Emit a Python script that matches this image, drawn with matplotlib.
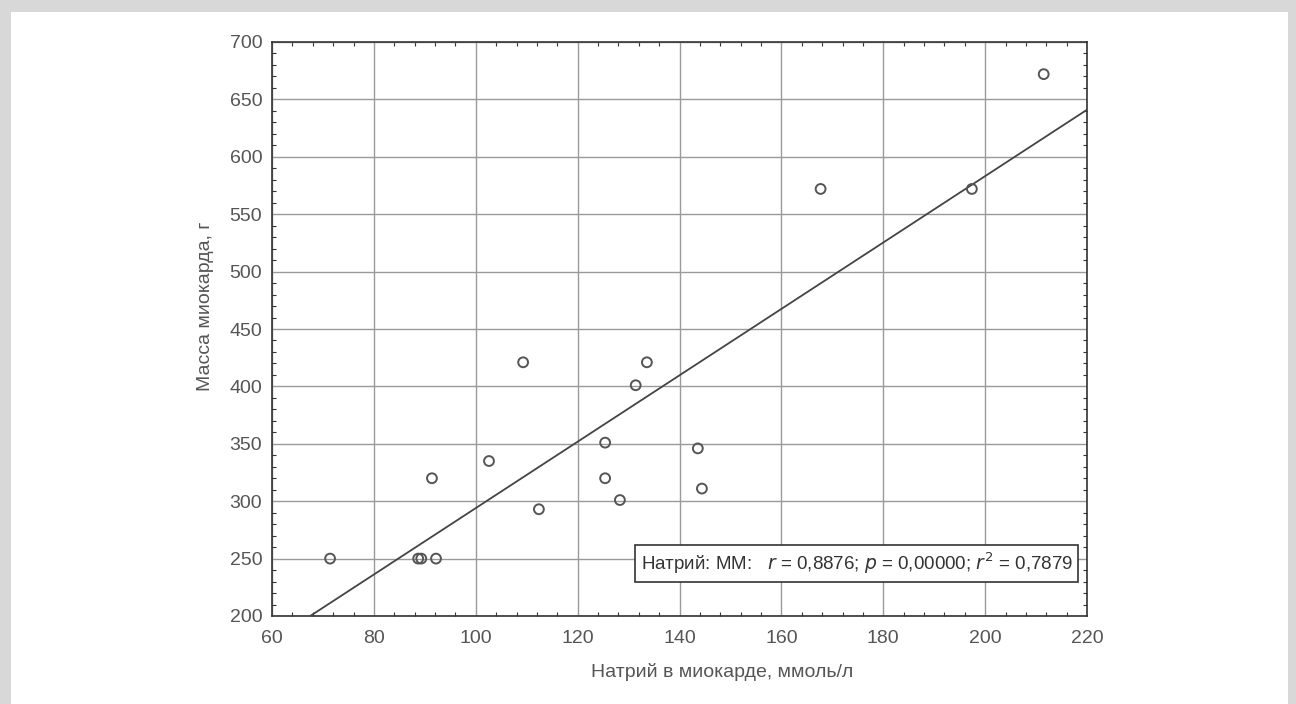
import matplotlib.pyplot as plt
from matplotlib.patches import Rectangle
from matplotlib.ticker import MultipleLocator

plt.rcParams['font.family'] = ['Liberation Sans', 'DejaVu Sans']

# Sodium in myocardium (mmol/l) vs myocardial mass (g)
sodium = [71.4, 88.7, 89.3, 92.2, 91.4, 102.6, 109.3, 112.4, 125.4, 125.4,
          128.3, 131.4, 133.6, 143.6, 144.4, 167.7, 197.4, 211.5]
mass = [250, 250, 250, 250, 320, 335, 421, 293, 351, 320,
        301, 401, 421, 346, 311, 572, 572, 672]

# regression line
fit_x = [67.5, 220]
fit_y = [200, 641]

stats_text = 'Натрий: ММ:   $r$ = 0,8876; $p$ = 0,00000; $r^2$ = 0,7879'

fig = plt.figure(figsize=(12.96, 7.04), dpi=100)
fig.patch.set_facecolor('#d8d8d8')
fig.patches.append(Rectangle((11 / 1296, 0), (1288 - 11) / 1296, (704 - 12) / 704,
                             transform=fig.transFigure, facecolor='white',
                             edgecolor='none', zorder=-10))

ax = fig.add_axes([272 / 1296, 1 - 616 / 704, (1087 - 272) / 1296, (616 - 42) / 704])
ax.set_zorder(1)
ax.set_xlim(60, 220)
ax.set_ylim(200, 700)

ax.xaxis.set_major_locator(MultipleLocator(20))
ax.xaxis.set_minor_locator(MultipleLocator(4))
ax.yaxis.set_major_locator(MultipleLocator(50))
ax.yaxis.set_minor_locator(MultipleLocator(10))
ax.tick_params(which='both', direction='in', top=True, right=True,
               color='#333333', labelcolor='#555555', labelsize=14)
ax.tick_params(which='major', length=0)
ax.tick_params(axis='x', which='major', pad=10)
ax.tick_params(axis='y', which='major', pad=7)
ax.tick_params(which='minor', length=3, width=0.8)
ax.grid(True, which='major', color='#9a9a9a', linewidth=1)
for s in ax.spines.values():
    s.set_color('#333333')
    s.set_linewidth(1.2)

ax.plot(fit_x, fit_y, color='#444444', linewidth=1.3, zorder=3)
ax.scatter(sodium, mass, s=50, facecolors='none', edgecolors='#555555',
           linewidths=1.4, zorder=4)

ax.text(0.9825, 0.0915, stats_text, transform=ax.transAxes, ha='right', va='center',
        fontsize=13.5, color='#333333',
        bbox=dict(boxstyle='square,pad=0.3', facecolor='white', edgecolor='#333333',
                  linewidth=1.2))

ax.set_xlabel('Натрий в миокарде, ммоль/л', fontsize=14, color='#555555')
ax.set_ylabel('Масса миокарда, г', fontsize=14, color='#555555')
ax.xaxis.label.set_va('center')
ax.yaxis.label.set_va('center')
ax.xaxis.set_label_coords(0.552, -0.098)
ax.yaxis.set_label_coords(-0.082, 0.54)

plt.savefig('out.png', dpi=100)
